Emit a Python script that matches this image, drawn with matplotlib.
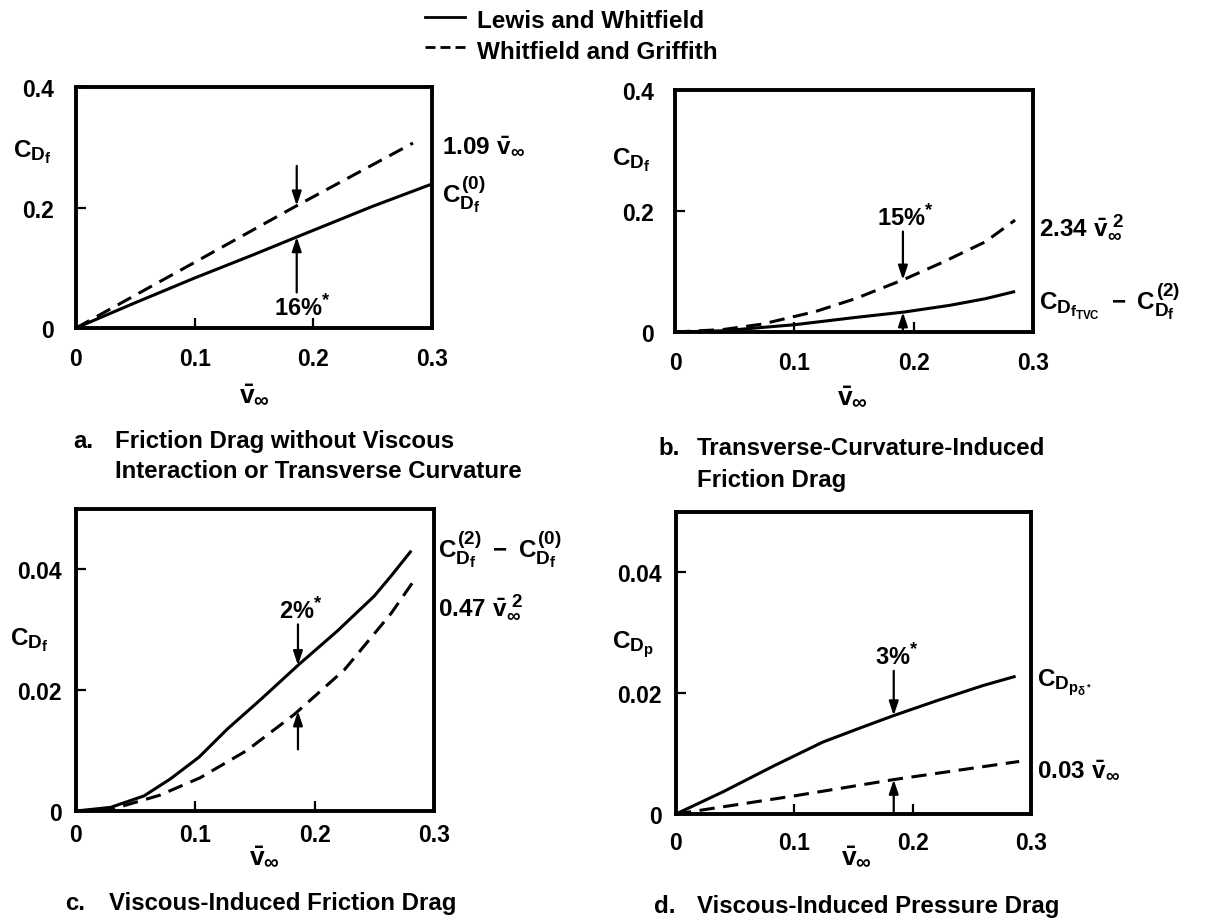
import numpy as np
import matplotlib
matplotlib.use("Agg")
import matplotlib.pyplot as plt
from matplotlib import font_manager
from matplotlib.lines import Line2D

try:
    # slightly larger sub/superscripts for the coefficient symbols
    import matplotlib._mathtext as _mt
    _mt.SHRINK_FACTOR = 0.78
except Exception:
    pass

W, H = 1209, 920

# ---------------- data (v_inf, drag coefficient) ----------------
xticks = [0.0, 0.1, 0.2, 0.3]
xticklabels = ["0", "0.1", "0.2", "0.3"]

# (a) friction drag without viscous interaction or transverse curvature
a_lw_v = [0.0, 0.05, 0.10, 0.15, 0.186, 0.25, 0.30]
a_lw_cd = [0.0, 0.042, 0.083, 0.122, 0.151, 0.202, 0.239]
a_wg_v = [0.0, 0.10, 0.186, 0.284]
a_wg_cd = [0.0, 0.109, 0.203, 0.307]
a_yticks = [0.0, 0.2, 0.4]
a_yticklabels = ["0", "0.2", "0.4"]

# (b) transverse-curvature-induced friction drag
b_lw_v = [0.0, 0.04, 0.10, 0.151, 0.192, 0.23, 0.26, 0.285]
b_lw_cd = [0.0, 0.002, 0.012, 0.024, 0.033, 0.044, 0.055, 0.067]
b_wg_v = [0.0, 0.04, 0.073, 0.118, 0.151, 0.192, 0.224, 0.26, 0.285]
b_wg_cd = [0.0, 0.004, 0.013, 0.034, 0.055, 0.087, 0.115, 0.149, 0.185]
b_yticks = [0.0, 0.2, 0.4]
b_yticklabels = ["0", "0.2", "0.4"]

# (c) viscous-induced friction drag
c_lw_v = [0.0, 0.029, 0.057, 0.079, 0.103, 0.127, 0.155, 0.187, 0.219, 0.25, 0.264, 0.281]
c_lw_cd = [0.0, 0.0006, 0.0025, 0.0053, 0.0089, 0.0136, 0.0185, 0.0243, 0.0298, 0.0356, 0.0389, 0.0431]
c_wg_v = [0.0, 0.03, 0.07, 0.104, 0.143, 0.183, 0.225, 0.264, 0.282]
c_wg_cd = [0.0, 0.0003, 0.0026, 0.0055, 0.0100, 0.0160, 0.0234, 0.0327, 0.0378]
c_yticks = [0.0, 0.02, 0.04]
c_yticklabels = ["0", "0.02", "0.04"]

# (d) viscous-induced pressure drag
d_lw_v = [0.0, 0.04, 0.083, 0.124, 0.155, 0.184, 0.221, 0.26, 0.287]
d_lw_cd = [0.0, 0.0037, 0.0080, 0.0119, 0.0142, 0.0163, 0.0188, 0.0213, 0.0228]
d_wg_v = [0.0, 0.10, 0.184, 0.29]
d_wg_cd = [0.0, 0.0030, 0.0057, 0.0087]
d_yticks = [0.0, 0.02, 0.04]
d_yticklabels = ["0", "0.02", "0.04"]

legend_labels = ["Lewis and Whitfield", "Whitfield and Griffith"]


# ---------------- fonts ----------------
def has_font(name):
    try:
        font_manager.findfont(font_manager.FontProperties(family=name),
                              fallback_to_default=False)
        return True
    except Exception:
        return False


BODY = "Liberation Sans" if has_font("Liberation Sans") else "DejaVu Sans"
NARROW = "Liberation Sans Narrow" if has_font("Liberation Sans Narrow") else None

plt.rcParams["font.family"] = [BODY, "DejaVu Sans"]
plt.rcParams["font.weight"] = "bold"
plt.rcParams["mathtext.fontset"] = "custom"
for key in ("rm", "it", "bf", "sf"):
    plt.rcParams["mathtext." + key] = BODY + ":bold"

LW_CURVE = 2.2
DASH = (0, (5, 2.8))

fig = plt.figure(figsize=(W / 100, H / 100), dpi=100)
fig.patch.set_facecolor("white")


def fx(px):
    return px / W


def fy(py):
    return 1 - py / H


def panel(box, lw_v, lw_cd, wg_v, wg_cd, ylim, yticks, yticklabels, ypad, xpad):
    l, t, r, b = box
    ax = fig.add_axes([l / W, 1 - b / H, (r - l) / W, (b - t) / H])
    ax.plot(lw_v, lw_cd, color="black", lw=LW_CURVE, solid_capstyle="butt",
            solid_joinstyle="round")
    ax.plot(wg_v, wg_cd, color="black", lw=LW_CURVE, ls=DASH)
    ax.set_xlim(0, 0.3)
    ax.set_ylim(*ylim)
    ax.set_xticks(xticks)
    ax.set_xticklabels(xticklabels)
    ax.set_yticks(yticks)
    ax.set_yticklabels(yticklabels)
    ax.tick_params(direction="in", length=7, width=1.6, labelsize=16.5,
                   top=False, right=False)
    ax.tick_params(axis="y", pad=ypad)
    ax.tick_params(axis="x", pad=xpad)
    for s in ax.spines.values():
        s.set_linewidth(2.8)
    return ax


def arrows(ax, v, wg_v, wg_cd, lw_v, lw_cd, down_from, up_from, down_to_dashed, text, text_below):
    top_curve = (wg_v, wg_cd) if down_to_dashed else (lw_v, lw_cd)
    low_curve = (lw_v, lw_cd) if down_to_dashed else (wg_v, wg_cd)
    y_top = np.interp(v, *top_curve)
    y_low = np.interp(v, *low_curve)
    props = dict(arrowstyle="-|>,head_length=0.6,head_width=0.2", lw=1.6,
                 color="black", mutation_scale=14, shrinkA=0, shrinkB=0)
    ax.annotate("", xy=(v, y_top), xytext=(v, down_from), arrowprops=props)
    ax.annotate("", xy=(v, y_low), xytext=(v, up_from), arrowprops=props)
    if text_below:
        ax.annotate(text, xy=(v, up_from), xytext=(4, -1), textcoords="offset points",
                    ha="center", va="top", fontsize=17)
    else:
        ax.annotate(text, xy=(v, down_from), xytext=(2, 1), textcoords="offset points",
                    ha="center", va="bottom", fontsize=17)


# ---------------- panels ----------------
ax_a = panel((76, 88, 432, 329), a_lw_v, a_lw_cd, a_wg_v, a_wg_cd, (0, 0.4),
             a_yticks, a_yticklabels, 16, 14)
ax_b = panel((675, 91, 1033, 333), b_lw_v, b_lw_cd, b_wg_v, b_wg_cd, (0, 0.4),
             b_yticks, b_yticklabels, 15, 14)
ax_c = panel((76, 510, 434, 812), c_lw_v, c_lw_cd, c_wg_v, c_wg_cd, (0, 0.05),
             c_yticks, c_yticklabels, 10, 9)
ax_d = panel((676, 513, 1031, 815), d_lw_v, d_lw_cd, d_wg_v, d_wg_cd, (0, 0.05),
             d_yticks, d_yticklabels, 10, 12)

arrows(ax_a, 0.186, a_wg_v, a_wg_cd, a_lw_v, a_lw_cd, 0.269, 0.059, True,
       r"16%$^{*}$", True)
arrows(ax_b, 0.191, b_wg_v, b_wg_cd, b_lw_v, b_lw_cd, 0.166, 0.0, True,
       r"15%$^{*}$", False)
arrows(ax_c, 0.186, c_wg_v, c_wg_cd, c_lw_v, c_lw_cd, 0.0309, 0.0102, False,
       r"2%$^{*}$", False)
arrows(ax_d, 0.184, d_wg_v, d_wg_cd, d_lw_v, d_lw_cd, 0.0237, 0.0, False,
       r"3%$^{*}$", False)

# curve labels on the right of each frame
LBL = 17.5
ax_a.text(1.028, 0.755, r"$1.09\ \bar{v}_{\infty}$", transform=ax_a.transAxes,
          ha="left", va="center", fontsize=LBL)
ax_a.text(1.028, 0.56, r"$C_{D_f}^{(0)}$", transform=ax_a.transAxes,
          ha="left", va="center", fontsize=LBL)
ax_b.text(1.017, 0.44, r"$2.34\ \bar{v}_{\infty}^{\ 2}$", transform=ax_b.transAxes,
          ha="left", va="center", fontsize=LBL)
ax_b.text(1.017, 0.13, r"$C_{D_{f_{TVC}}}\ -\ C_{D_f}^{(2)}$", transform=ax_b.transAxes,
          ha="left", va="center", fontsize=LBL)
ax_c.text(1.011, 0.87, r"$C_{D_f}^{(2)}\ -\ C_{D_f}^{(0)}$", transform=ax_c.transAxes,
          ha="left", va="center", fontsize=LBL)
ax_c.text(1.011, 0.68, r"$0.47\ \bar{v}_{\infty}^{\ 2}$", transform=ax_c.transAxes,
          ha="left", va="center", fontsize=LBL)
ax_d.text(1.017, 0.44, r"$C_{D_{p_{\delta^*}}}$", transform=ax_d.transAxes,
          ha="left", va="center", fontsize=LBL)
ax_d.text(1.017, 0.146, r"$0.03\ \bar{v}_{\infty}$", transform=ax_d.transAxes,
          ha="left", va="center", fontsize=LBL)

# axis titles
for x, y, s in [(13, 152, r"$C_{D_f}$"), (612, 160, r"$C_{D_f}$"),
                (10, 640, r"$C_{D_f}$"), (612, 645, r"$C_{D_p}$")]:
    fig.text(fx(x), fy(y), s, ha="left", va="center", fontsize=17.5)
for x, y in [(254, 395), (852, 397), (264, 857), (856, 857)]:
    fig.text(fx(x), fy(y), r"$\bar{v}_{\infty}$", ha="center", va="center", fontsize=19)

# captions
CAP = 17.3
captions = [
    (73, 115, [(448, "Friction Drag without Viscous"),
               (478, "Interaction or Transverse Curvature")], "a."),
    (658, 697, [(455, "Transverse-Curvature-Induced"),
                (487, "Friction Drag")], "b."),
    (65, 109, [(910, "Viscous-Induced Friction Drag")], "c."),
    (654, 697, [(913, "Viscous-Induced Pressure Drag")], "d."),
]
for xl, xt, lines, letter in captions:
    fig.text(fx(xl), fy(lines[0][0]), letter, ha="left", va="baseline",
             fontsize=CAP, fontweight="bold")
    for yb, s in lines:
        fig.text(fx(xt), fy(yb), s, ha="left", va="baseline",
                 fontsize=CAP, fontweight="bold")

# key
if NARROW:
    key_font = dict(family=[NARROW, "DejaVu Sans"], fontsize=21, fontweight="bold")
else:
    key_font = dict(fontsize=17.5, fontweight="bold")
fig.add_artist(Line2D([fx(425), fx(465)], [fy(18), fy(18)], color="black", lw=2.0,
                      transform=fig.transFigure))
fig.add_artist(Line2D([fx(425), fx(465)], [fy(48), fy(48)], color="black", lw=2.0,
                      ls=(0, (3.6, 1.8)), transform=fig.transFigure))
fig.text(fx(477), fy(28), legend_labels[0], ha="left", va="baseline", **key_font)
fig.text(fx(477), fy(59), legend_labels[1], ha="left", va="baseline", **key_font)

fig.savefig("out.png", dpi=100, facecolor="white")
